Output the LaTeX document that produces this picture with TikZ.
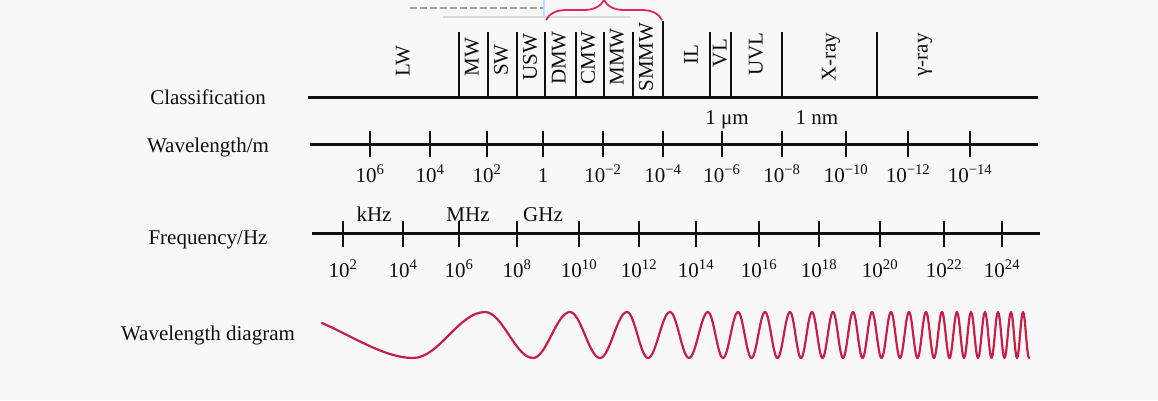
\documentclass[tikz,border=0pt]{standalone}
\usepackage{fontspec}
\setmainfont{Liberation Serif}
\usetikzlibrary{decorations.pathreplacing}
\definecolor{bg}{RGB}{248,248,248}
\definecolor{wavecol}{RGB}{196,32,72}
\definecolor{bracecol}{RGB}{226,40,90}
\definecolor{ink}{RGB}{15,15,15}
\begin{document}
\begin{tikzpicture}[x=1pt,y=-1pt,
  txt/.style={font=\fontsize{21}{24}\selectfont, inner sep=0pt, text=ink},
  lbl/.style={txt, anchor=base},
  cls/.style={txt, rotate=90, anchor=center},
  axisline/.style={line width=3pt, draw=ink},
  divider/.style={line width=2.2pt, draw=ink},
  tickmark/.style={line width=1.8pt, draw=ink},
  bigtick/.style={line width=2.6pt, draw=ink},
  wave/.style={line width=2.2pt, draw=wavecol, line cap=round, line join=round}]
\fill[bg] (0,0) rectangle (1158,400);
\useasboundingbox (0,0) rectangle (1158,400);

% ---------- row labels ----------
\node[lbl] (lcls) at (208,104) {Classification};
\node[lbl] (lwl)  at (208,152) {Wavelength/m};
\node[lbl] (lfr)  at (208,244) {Frequency/Hz};
\node[lbl] (lwd)  at (208,340) {Wavelength diagram};

% ---------- top bracket (cropped) ----------
\coordinate (dl) at (410,8);
\coordinate (dr) at (544,8);
\draw[gray!75, line width=1.3pt, dash pattern=on 7pt off 3pt] (dl) -- (dr);
\coordinate (gl) at (443,17);
\coordinate (gr) at (630,17);
\draw[gray!30, line width=1.3pt] (gl) -- (gr);
\coordinate (cy0) at (544,0);
\coordinate (cy1) at (544,16);
\draw[cyan!30, line width=2pt] (cy0) -- (cy1);
\coordinate (bl) at (546,20);
\coordinate (br) at (662,20);
\draw[bracecol, line width=1.8pt, decorate, decoration={brace, amplitude=20pt}] (bl) -- (br);

% ---------- classification axis ----------
\coordinate (c0) at (308,97);
\coordinate (c1) at (1038,97);
\draw[axisline] (c0) -- (c1);
\foreach \x in {459,488,517,545,576,604,633,710,731,782,877}
  \draw[divider] (\x,32) -- (\x,97);
\draw[divider] (663,21) -- (663,97);

\node[cls] (LW)   at (403,61) {LW};
\node[cls] (MW)   at (472,57) {MW};
\node[cls] (SW)   at (501,60) {SW};
\node[cls] (USW)  at (530,57) {USW};
\node[cls] (DMW)  at (559,58) {DMW};
\node[cls] (CMW)  at (588,58) {CMW};
\node[cls] (MMW)  at (617,57) {MMW};
\node[cls] (SMMW) at (646,57) {SMMW};
\node[cls] (IL)   at (691,55) {IL};
\node[cls] (VL)   at (720,53) {VL};
\node[cls] (UVL)  at (756,54) {UVL};
\node[cls] (XR)   at (831,57) {X-ray};
\node[cls] (GR)   at (925,55) {γ-ray};

% ---------- wavelength axis ----------
\coordinate (w0) at (310,144);
\coordinate (w1) at (1038,144);
\draw[axisline] (w0) -- (w1);
\foreach \x/\t [count=\i] in {370/{10\textsuperscript{6}},430/{10\textsuperscript{4}},487/{10\textsuperscript{2}},543/{1},603/{10\textsuperscript{−2}},663/{10\textsuperscript{−4}},722/{10\textsuperscript{−6}},782/{10\textsuperscript{−8}},846/{10\textsuperscript{−10}},908/{10\textsuperscript{−12}},970/{10\textsuperscript{−14}}}
{
  \draw[tickmark] (\x,131) -- (\x,157);
  \node[lbl] (wl\i) at (\x,182) {\t};
}
\draw[bigtick] (722,131) -- (722,157);
\draw[bigtick] (782,131) -- (782,157);
\node[lbl] (um) at (727,124) {1 μm};
\node[lbl] (nm) at (817,124) {1 nm};

% ---------- frequency axis ----------
\coordinate (f0) at (312,233);
\coordinate (f1) at (1040,233);
\draw[axisline] (f0) -- (f1);
\foreach \x/\t [count=\i] in {343/{10\textsuperscript{2}},403/{10\textsuperscript{4}},459/{10\textsuperscript{6}},517/{10\textsuperscript{8}},579/{10\textsuperscript{10}},639/{10\textsuperscript{12}},696/{10\textsuperscript{14}},759/{10\textsuperscript{16}},819/{10\textsuperscript{18}},880/{10\textsuperscript{20}},944/{10\textsuperscript{22}},1002/{10\textsuperscript{24}}}
{
  \draw[tickmark] (\x,221) -- (\x,247);
  \node[lbl] (fr\i) at (\x,277) {\t};
}
\draw[bigtick] (579,221) -- (579,247);
\draw[bigtick] (819,221) -- (819,247);
\draw[bigtick] (944,221) -- (944,247);
\node[lbl] (khz) at (374,221) {kHz};
\node[lbl] (mhz) at (468,221) {MHz};
\node[lbl] (ghz) at (543,221) {GHz};

% ---------- wavelength diagram ----------
\draw[wave] (322,323) .. controls (352,336) and (385,358) .. (413,358)
  \foreach \a/\b/\ya/\yb in {413/485/358/312, 485/533/312/358, 533/570/358/312, 570/600/312/358, 600/627/358/312, 627/648/312/358, 648/670/358/312, 670/689/312/358, 689/708/358/312, 708/723/312/358, 723/738/358/312, 738/751.5/312/358, 751.5/765/358/312, 765/777.5/312/358, 777.5/790/358/312, 790/801/312/358, 801/812/358/312, 812/822.5/312/358, 822.5/833/358/312, 833/843/312/358, 843/853/358/312, 853/862.5/312/358, 862.5/872/358/312, 872/881.5/312/358, 881.5/891/358/312, 891/900/312/358, 900/909/358/312, 909/917.5/312/358, 917.5/926/358/312, 926/934/312/358, 934/942/358/312, 942/949.5/312/358, 949.5/957/358/312, 957/964/312/358, 964/971/358/312, 971/978/312/358, 978/985/358/312, 985/991.5/312/358, 991.5/998/358/312, 998/1004.5/312/358, 1004.5/1011/358/312, 1011/1017/312/358, 1017/1023/358/312, 1023/1029/312/358}
  { .. controls ({\a+0.3634*(\b-\a)},\ya) and ({\b-0.3634*(\b-\a)},\yb) .. (\b,\yb) };
\end{tikzpicture}
\end{document}
